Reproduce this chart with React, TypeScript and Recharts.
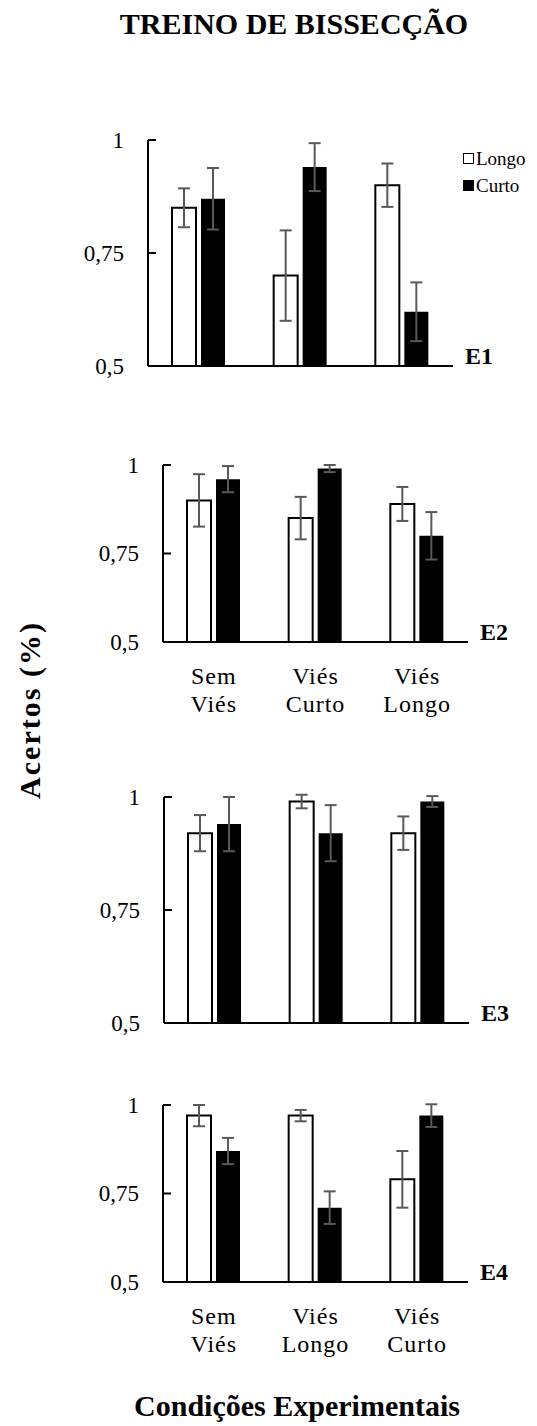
import React from "react";
import { BarChart, Bar, XAxis, YAxis, ErrorBar, Legend, Label } from "recharts";

// E1
const conditionsE1 = ["Sem Viés", "Viés Curto", "Viés Longo"];
const longoE1 = [0.85, 0.7, 0.9];
const curtoE1 = [0.87, 0.94, 0.62];
const longoErrE1 = [0.043, 0.1, 0.048];
const curtoErrE1 = [0.068, 0.053, 0.065];

// E2
const conditionsE2 = ["Sem Viés", "Viés Curto", "Viés Longo"];
const longoE2 = [0.9, 0.85, 0.89];
const curtoE2 = [0.96, 0.99, 0.8];
const longoErrE2 = [0.074, 0.06, 0.048];
const curtoErrE2 = [0.037, 0.01, 0.067];

// E3
const conditionsE3 = ["Sem Viés", "Viés Longo", "Viés Curto"];
const longoE3 = [0.92, 0.99, 0.92];
const curtoE3 = [0.94, 0.92, 0.99];
const longoErrE3 = [0.04, 0.015, 0.037];
const curtoErrE3 = [0.06, 0.062, 0.012];

// E4
const conditionsE4 = ["Sem Viés", "Viés Longo", "Viés Curto"];
const longoE4 = [0.97, 0.97, 0.79];
const curtoE4 = [0.87, 0.71, 0.97];
const longoErrE4 = [0.03, 0.016, 0.08];
const curtoErrE4 = [0.037, 0.046, 0.032];

const yTicks = [0.5, 0.75, 1];
const seriesOrder = ["Longo", "Curto"];

const FONT = "Liberation Serif, Times New Roman, serif";
const ERR_COLOR = "#595959";

const buildRows = (
  conditions: string[],
  longo: number[],
  curto: number[],
  longoErr: number[],
  curtoErr: number[]
) =>
  conditions.map((condition, i) => ({
    condition,
    longo: longo[i],
    curto: curto[i],
    longoErr: longoErr[i],
    curtoErr: curtoErr[i],
  }));

const YTick = (props: any) => {
  const { x, y, payload } = props;
  return (
    <g>
      <line x1={x} x2={x + 8} y1={y} y2={y} stroke="#000" strokeWidth={2} />
      <text
        x={x - 24}
        y={y}
        textAnchor="end"
        dominantBaseline="central"
        fontFamily={FONT}
        fontSize={23}
        fill="#000"
      >
        {String(payload.value).replace(".", ",")}
      </text>
    </g>
  );
};

const CategoryTick = (props: any) => {
  const { x, y, payload } = props;
  const words = String(payload.value).split(" ");
  return (
    <text textAnchor="middle" fontFamily={FONT} fontSize={24} letterSpacing={1} fill="#000">
      {words.map((w, i) => (
        <tspan key={i} x={x} y={y + 42 + i * 28}>
          {w}
        </tspan>
      ))}
    </text>
  );
};

const LegendContent = (props: any) => {
  const items = [...(props.payload || [])].sort(
    (a: any, b: any) => seriesOrder.indexOf(a.value) - seriesOrder.indexOf(b.value)
  );
  return (
    <div style={{ fontFamily: FONT, fontSize: 19, color: "#000" }}>
      {items.map((item: any) => (
        <div key={item.value} style={{ display: "flex", alignItems: "center", height: 27 }}>
          <span
            style={{
              display: "inline-block",
              width: 11,
              height: 11,
              boxSizing: "border-box",
              background: item.value === "Longo" ? "#fff" : "#000",
              border: "1.6px solid #000",
              marginRight: 2,
            }}
          />
          <span>{item.value}</span>
        </div>
      ))}
    </div>
  );
};

interface PanelProps {
  name: string;
  rows: any[];
  top: number;
  axisX: number;
  plotTop: number;
  plotH: number;
  plotW: number;
  showCategories?: boolean;
  showLegend?: boolean;
}

const Y_AXIS_W = 60;
const CHART_W = 537;

const Panel: React.FC<PanelProps> = ({
  name,
  rows,
  top,
  axisX,
  plotTop,
  plotH,
  plotW,
  showCategories,
  showLegend,
}) => {
  const xAxisH = showCategories ? 80 : 4;
  const marginTop = plotTop - top;
  const bottom = showCategories ? 8 : 18;
  const height = marginTop + plotH + xAxisH + bottom;
  const renderName = (p: any) => {
    const vb = p.viewBox || {};
    return (
      <text
        x={(vb.x || 0) + (vb.width || 0) + 12}
        y={(vb.y || 0) - 2}
        fontFamily={FONT}
        fontSize={24}
        fontWeight="bold"
        fill="#000"
      >
        {name}
      </text>
    );
  };
  return (
    <div style={{ position: "absolute", left: 0, top }}>
      <BarChart
        width={CHART_W}
        height={height}
        data={rows}
        barSize={24}
        barGap={5}
        margin={{
          top: marginTop,
          left: axisX - Y_AXIS_W,
          right: CHART_W - (axisX + plotW),
          bottom,
        }}
      >
        <XAxis
          dataKey="condition"
          height={xAxisH}
          axisLine={{ stroke: "#000", strokeWidth: 2 }}
          tickLine={false}
          tickSize={0}
          tickMargin={0}
          tick={showCategories ? <CategoryTick /> : false}
          interval={0}
          label={<Label content={renderName} />}
        />
        <YAxis
          type="number"
          domain={[0.5, 1]}
          ticks={yTicks}
          allowDataOverflow
          width={Y_AXIS_W}
          axisLine={{ stroke: "#000", strokeWidth: 2 }}
          tickLine={false}
          tickSize={0}
          tickMargin={0}
          tick={<YTick />}
        />
        {showLegend && (
          <Legend
            layout="vertical"
            align="center"
            verticalAlign="middle"
            content={<LegendContent />}
            wrapperStyle={{ left: 463, top: 35, width: 74 }}
          />
        )}
        <Bar dataKey="longo" name="Longo" fill="#fff" stroke="#000" strokeWidth={2} isAnimationActive={false}>
          <ErrorBar dataKey="longoErr" width={6} stroke={ERR_COLOR} strokeWidth={2} direction="y" />
        </Bar>
        <Bar dataKey="curto" name="Curto" fill="#000" isAnimationActive={false}>
          <ErrorBar dataKey="curtoErr" width={6} stroke={ERR_COLOR} strokeWidth={2} direction="y" />
        </Bar>
      </BarChart>
    </div>
  );
};

const App: React.FC = () => {
  return (
    <div
      style={{
        position: "absolute",
        left: 0,
        top: 0,
        width: 537,
        height: 1426,
        background: "#fff",
        fontFamily: FONT,
      }}
    >
      <div
        style={{
          position: "absolute",
          left: 94,
          top: 9,
          width: 400,
          textAlign: "center",
          fontSize: 30,
          lineHeight: "30px",
          fontWeight: "bold",
        }}
      >
        TREINO DE BISSECÇÃO
      </div>

      <Panel
        name="E1"
        rows={buildRows(conditionsE1, longoE1, curtoE1, longoErrE1, curtoErrE1)}
        top={110}
        axisX={148}
        plotTop={140}
        plotH={226}
        plotW={305}
        showLegend
      />
      <Panel
        name="E2"
        rows={buildRows(conditionsE2, longoE2, curtoE2, longoErrE2, curtoErrE2)}
        top={440}
        axisX={163}
        plotTop={465}
        plotH={177}
        plotW={305}
        showCategories
      />
      <Panel
        name="E3"
        rows={buildRows(conditionsE3, longoE3, curtoE3, longoErrE3, curtoErrE3)}
        top={770}
        axisX={164}
        plotTop={797}
        plotH={226}
        plotW={305}
      />
      <Panel
        name="E4"
        rows={buildRows(conditionsE4, longoE4, curtoE4, longoErrE4, curtoErrE4)}
        top={1080}
        axisX={163}
        plotTop={1105}
        plotH={177}
        plotW={305}
        showCategories
      />

      <div
        style={{
          position: "absolute",
          left: 30,
          top: 710,
          transform: "translate(-50%, -50%) rotate(-90deg)",
          whiteSpace: "nowrap",
          fontSize: 30,
          lineHeight: "30px",
          fontWeight: "bold",
          letterSpacing: 2,
        }}
      >
        Acertos (%)
      </div>

      <div
        style={{
          position: "absolute",
          left: 97,
          top: 1391,
          width: 400,
          textAlign: "center",
          fontSize: 30,
          lineHeight: "30px",
          fontWeight: "bold",
        }}
      >
        Condições Experimentais
      </div>
    </div>
  );
};

export default App;
